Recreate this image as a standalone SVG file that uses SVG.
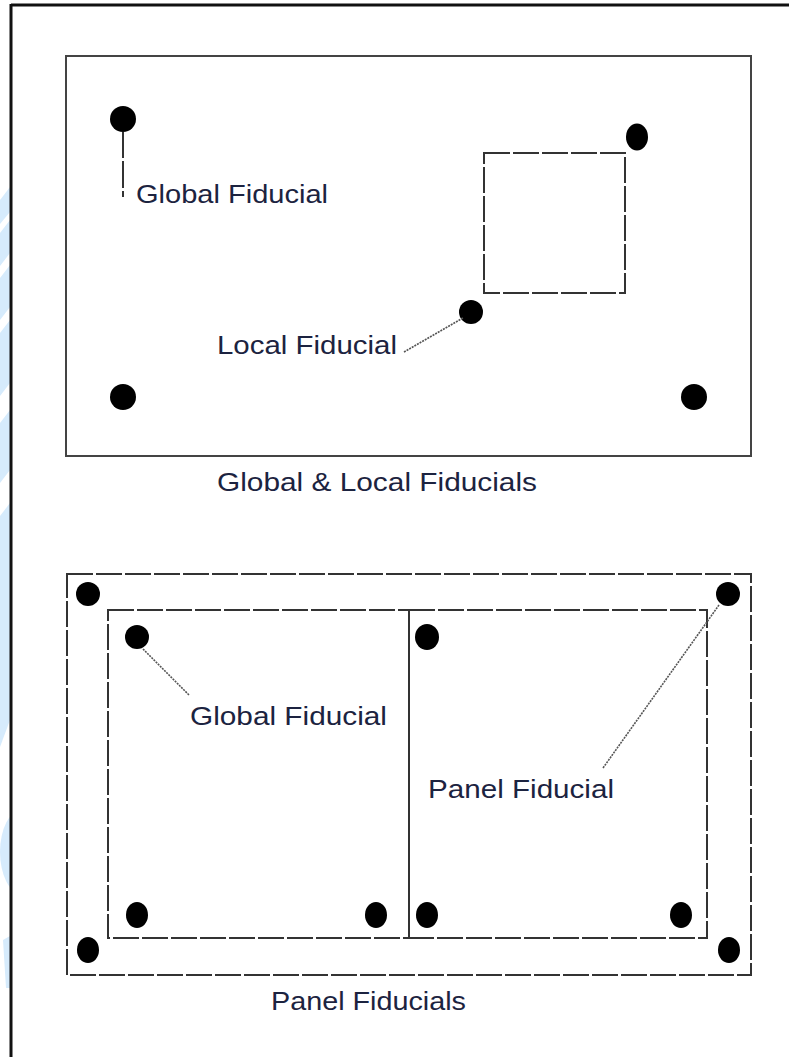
<svg xmlns="http://www.w3.org/2000/svg" width="789" height="1057" viewBox="0 0 789 1057">
<style>
.frame{fill:none;stroke:#111;stroke-width:3}
.box{fill:none;stroke:#444;stroke-width:2}
.dash{fill:none;stroke:#333;stroke-width:2;stroke-dasharray:26 3}
.fid{fill:#000}
.lead{fill:none;stroke:#555;stroke-width:1.6;stroke-dasharray:2 1}
.lbl{font-family:"Liberation Sans",Arial,sans-serif;font-size:26px;fill:#1c2340}
</style>
<defs>
<clipPath id="wm"><rect x="0" y="0" width="10" height="1057"/></clipPath>
</defs>
<rect width="789" height="1057" fill="#fff"/>
<g id="watermark" clip-path="url(#wm)" fill="#d6ebfc">
<polygon points="0,200 10,187 10,212 0,224"/>
<polygon points="0,233 10,220 10,253 0,266"/>
<polygon points="0,278 10,265 10,307 0,320"/>
<polygon points="0,333 10,320 10,383 0,396"/>
<polygon points="0,423 10,410 10,470 0,483"/>
<polygon points="0,516 10,503 10,720 0,747"/>
<ellipse cx="22" cy="852" rx="22" ry="42"/>
<polygon points="3,940 10,936 10,988 6,988"/>
</g>
<g id="frame">
<line class="frame" x1="11" y1="5" x2="789" y2="5"/>
<line class="frame" x1="11" y1="4" x2="11" y2="1057"/>
</g>
<g id="global-local">
<rect class="box" x="66" y="56" width="685" height="400"/>
<rect class="dash" x="484" y="153" width="141" height="140"/>
<text class="lbl" x="217" y="491" textLength="320" lengthAdjust="spacingAndGlyphs">Global &amp; Local Fiducials</text>
</g>
<g id="fid-top-global"><circle class="fid" cx="123" cy="119" r="13"/></g>
<g id="fid-top-local"><circle class="fid" cx="471" cy="312" r="12"/></g>
<g id="fid-top-right"><ellipse class="fid" cx="637" cy="137" rx="11" ry="13.5"/></g>
<g id="fid-top-bl"><circle class="fid" cx="123" cy="397" r="13"/></g>
<g id="fid-top-br"><circle class="fid" cx="694" cy="397" r="13"/></g>
<g id="label-top-global"><text class="lbl" x="136" y="203" textLength="192" lengthAdjust="spacingAndGlyphs">Global Fiducial</text></g>
<g id="label-local"><text class="lbl" x="217" y="354" textLength="180" lengthAdjust="spacingAndGlyphs">Local Fiducial</text></g>
<g id="panel">
<rect class="dash" x="67" y="574" width="684" height="401"/>
<rect class="dash" x="108" y="610" width="301" height="328"/>
<rect class="dash" x="409" y="610" width="298" height="328"/>
<line x1="409" y1="610" x2="409" y2="938" stroke="#333" stroke-width="2"/>
<text class="lbl" x="271" y="1010" textLength="195" lengthAdjust="spacingAndGlyphs">Panel Fiducials</text>
</g>
<g id="fid-p-tl"><circle class="fid" cx="88" cy="594" r="12"/></g>
<g id="fid-p-tr"><circle class="fid" cx="728" cy="594" r="12"/></g>
<g id="fid-p-bl"><ellipse class="fid" cx="88" cy="950" rx="11" ry="13"/></g>
<g id="fid-p-br"><ellipse class="fid" cx="729" cy="950" rx="11" ry="13"/></g>
<g id="fid-l-tl"><circle class="fid" cx="137" cy="637" r="12"/></g>
<g id="fid-l-bl"><ellipse class="fid" cx="137" cy="915" rx="11" ry="13"/></g>
<g id="fid-l-br"><ellipse class="fid" cx="376" cy="915" rx="11" ry="13"/></g>
<g id="fid-r-tl"><ellipse class="fid" cx="427" cy="637" rx="12" ry="13"/></g>
<g id="fid-r-bl"><ellipse class="fid" cx="427" cy="915" rx="11" ry="13"/></g>
<g id="fid-r-br"><ellipse class="fid" cx="681" cy="915" rx="11" ry="13"/></g>
<g id="label-panel-global"><text class="lbl" x="190" y="725" textLength="197" lengthAdjust="spacingAndGlyphs">Global Fiducial</text></g>
<g id="label-panel"><text class="lbl" x="428" y="798" textLength="186" lengthAdjust="spacingAndGlyphs">Panel Fiducial</text></g>
<g id="connectors">
<path d="M123,132 V158 M123,161 V188 M123,191 V197" fill="none" stroke="#333" stroke-width="2"/>
<line class="lead" x1="404" y1="352" x2="463" y2="318"/>
<line class="lead" x1="143" y1="649" x2="189" y2="695"/>
<line class="lead" x1="719" y1="605" x2="603" y2="768"/>
</g>
</svg>
